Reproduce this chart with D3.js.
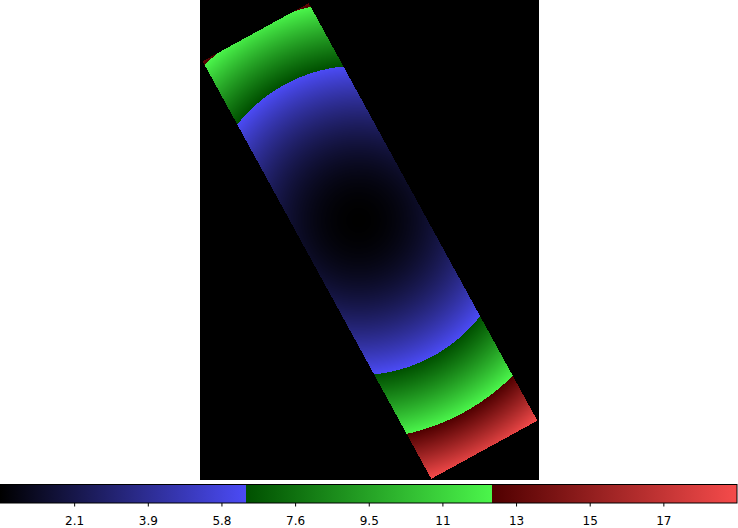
<!DOCTYPE html>
<html>
<head>
<meta charset="utf-8">
<script src="https://cdn.jsdelivr.net/npm/d3@7"></script>
<style>
  body { margin: 0; background: #fff; }
  svg { display: block; }
</style>
</head>
<body>
<script>
//Colour bar bands: value edges, start and end colour of each band
const bandEdges = [0.26, 6.39, 12.53, 18.66];
const bandStart = ["#000000", "#005000", "#500000"];
const bandEnd = ["#4b4bf5", "#4bf54b", "#f54b4b"];

//Colour bar ticks
const tickValues = [2.1, 3.94, 5.78, 7.62, 9.46, 11.3, 13.14, 14.98, 16.82];

//Rotated strip in the image (data units = array cells)
const imageSize = [339, 480];      // width, height of the rotated array
const stripSize = [121, 476];      // short side, long side
const stripCenter = [170, 241];    // centre of the strip
const stripAngle = 28.7;           // degrees
const fieldOffset = -23.5;         // lowest point, along the long side from the centre
const fieldRadius = 268;           // distance where the value reaches the top of the scale
const backgroundValue = 0;

const width = 738, height = 528;

const svg = d3.select("body")
              .append("svg")
              .attr("width", width)
              .attr("height", height);

//Image scales
const xImg = d3.scaleLinear().domain([0, imageSize[0]]).range([200, 539]);
const yImg = d3.scaleLinear().domain([0, imageSize[1]]).range([0, 480]);

//Colour map
const vmin = bandEdges[0], vmax = bandEdges[bandEdges.length - 1];
const cmapDomain = [], cmapRange = [];
bandStart.forEach((c, i) => {
  cmapDomain.push(bandEdges[i] + (i > 0 ? 1e-6 : 0), bandEdges[i + 1]);
  cmapRange.push(c, bandEnd[i]);
});
const color = d3.scaleLinear().domain(cmapDomain).range(cmapRange).clamp(true);

//Draw the array
const cw = imageSize[0], ch = imageSize[1];
const canvas = document.createElement("canvas");
canvas.width = cw;
canvas.height = ch;
const ctx = canvas.getContext("2d");
const img = ctx.createImageData(cw, ch);

const ang = stripAngle * Math.PI / 180;
const ux = Math.sin(ang), uy = Math.cos(ang);
const vx = Math.cos(ang), vy = -Math.sin(ang);

for (let j = 0; j < ch; j++) {
  for (let i = 0; i < cw; i++) {
    const dx = i + 0.5 - stripCenter[0], dy = j + 0.5 - stripCenter[1];
    const along = dx * ux + dy * uy;
    const across = dx * vx + dy * vy;
    let value = backgroundValue;
    if (Math.abs(along) <= stripSize[1] / 2 && Math.abs(across) <= stripSize[0] / 2) {
      const r2 = (along - fieldOffset) ** 2 + across ** 2;
      value = vmin + (vmax - vmin) * r2 / (fieldRadius * fieldRadius);
    }
    const c = d3.rgb(color(value));
    const k = (j * cw + i) * 4;
    img.data[k] = c.r;
    img.data[k + 1] = c.g;
    img.data[k + 2] = c.b;
    img.data[k + 3] = 255;
  }
}
ctx.putImageData(img, 0, 0);

svg.append("image")
   .attr("x", xImg(0))
   .attr("y", yImg(0))
   .attr("width", xImg(imageSize[0]) - xImg(0))
   .attr("height", yImg(imageSize[1]) - yImg(0))
   .attr("preserveAspectRatio", "none")
   .style("image-rendering", "pixelated")
   .attr("href", canvas.toDataURL());

//Colour bar
const xBar = d3.scaleLinear().domain([vmin, vmax]).range([0.5, 737]);

const grad = svg.append("defs")
                .append("linearGradient")
                .attr("id", "cbar")
                .attr("gradientUnits", "userSpaceOnUse")
                .attr("x1", xBar(vmin)).attr("x2", xBar(vmax))
                .attr("y1", 0).attr("y2", 0);

grad.selectAll("stop")
    .data(cmapDomain.map((d, i) => ({v: d, c: cmapRange[i]})))
    .enter().append("stop")
    .attr("offset", d => (d.v - vmin) / (vmax - vmin))
    .attr("stop-color", d => d.c);

svg.append("rect")
   .attr("x", xBar(vmin))
   .attr("y", 484.5)
   .attr("width", xBar(vmax) - xBar(vmin))
   .attr("height", 18.5)
   .style("fill", "url(#cbar)")
   .style("stroke", "#000")
   .style("stroke-width", 1);

const barAxis = d3.axisBottom(xBar)
                  .tickValues(tickValues)
                  .tickFormat(d3.format(".2g"))
                  .tickSize(3.5)
                  .tickPadding(9.5);

const axisG = svg.append("g")
                 .attr("transform", "translate(0,503)")
                 .call(barAxis);

axisG.select(".domain").remove();
axisG.selectAll(".tick line").attr("stroke", "#000");
axisG.selectAll(".tick text")
     .attr("fill", "#000")
     .style("font-family", "'DejaVu Sans', sans-serif")
     .style("font-size", "12px");
</script>
</body>
</html>
